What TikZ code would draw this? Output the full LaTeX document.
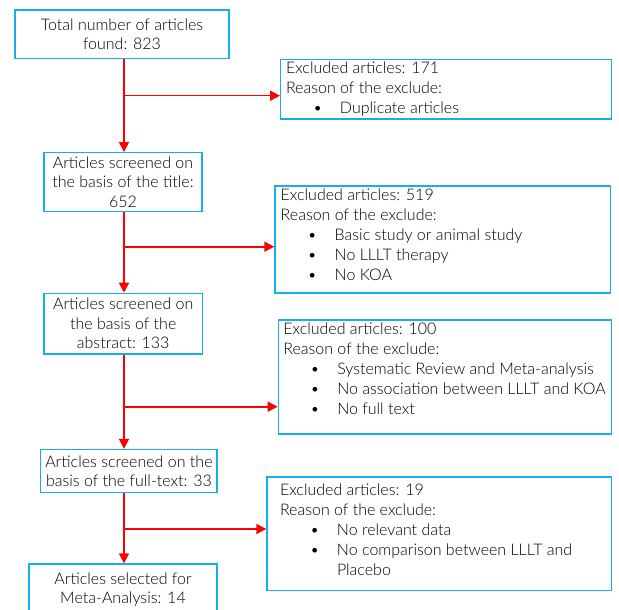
\documentclass[tikz,border=0pt]{standalone}
\usepackage{fontspec}
\setmainfont{Lato}[UprightFont=* Light]
\usetikzlibrary{arrows.meta}
\definecolor{boxblue}{RGB}{20,176,236}
\definecolor{arrred}{RGB}{255,0,0}
\newcommand{\xbody}[5]{\parbox[c][#2][t]{#1}{\raggedright\leftskip=#3\relax\parskip=0pt\baselineskip=20pt\vspace*{#4}#5}}
\newcommand{\xl}[1]{\par\noindent#1\par}
\newcommand{\bitem}[1]{\par\hangindent=54pt\hangafter=1\noindent\hbox to 27pt{}\hbox to 27pt{\textbullet\hfil}#1\par}
\newcommand{\bitemw}[1]{\par\hangindent=57pt\hangafter=1\noindent\hbox to 30pt{}\hbox to 27pt{\textbullet\hfil}#1\par}
\tikzset{
  mainbox/.style={draw=boxblue, line width=1.3pt, inner sep=0pt, align=center,
    font=\fontsize{16}{19.5}\selectfont},
  xbox/.style={draw=boxblue, line width=1.3pt, inner sep=0pt,
    font=\fontsize{16}{20}\selectfont},
  flow/.style={draw=arrred, line width=1.6pt, -{Triangle[length=10pt,width=10pt]}},
}
\begin{document}
\begin{tikzpicture}[x=1pt,y=-1pt]
\useasboundingbox (0,0) rectangle (619,610);
\fill[white] (0,0) rectangle (619,610);
\coordinate (spine) at (124,0);
% main column
\node[mainbox, minimum width=214pt, minimum height=48.7pt] (b1) at (122,34.35) {Total number of articles\\found: 823};
\node[mainbox, minimum width=158pt, minimum height=59pt] (b2) at (123,182.2) {Articles screened on\\the basis of the title:\\652};
\node[mainbox, minimum width=158.3pt, minimum height=60.7pt] (b3) at (123.2,323.7) {Articles screened on\\the basis of the\\abstract: 133};
\node[mainbox, minimum width=176.3pt, minimum height=43.2pt] (b4) at (128.9,471.1) {Articles screened on the\\basis of the full-text: 33};
\node[mainbox, minimum width=188pt, minimum height=51pt] (b5) at (123,589.5) {Articles selected for\\Meta-Analysis: 14};
% exclusion boxes
\node[xbox] (e1) at (446.2,89.15) {\xbody{331pt}{59.7pt}{5.3pt}{2.4pt}{%
  \xl{Excluded articles: 171}\xl{Reason of the exclude:}\bitem{Duplicate articles}}};
\node[xbox] (e2) at (442.85,239.5) {\xbody{335.7pt}{107pt}{5.7pt}{3.1pt}{%
  \xl{Excluded articles: 519}\xl{Reason of the exclude:}\bitem{Basic study or animal study}\bitem{No LLLT therapy}\bitem{No KOA}}};
\node[xbox] (e3) at (445,377) {\xbody{333.4pt}{114pt}{5pt}{3.1pt}{%
  \xl{Excluded articles: 100}\xl{Reason of the exclude:}\bitem{Systematic Review and Meta-analysis}\bitem{No association between LLLT and KOA}\bitem{No full text}}};
\node[xbox] (e4) at (439.35,533.85) {\xbody{344.7pt}{113.7pt}{13pt}{7.1pt}{%
  \xl{Excluded articles: 19}\xl{Reason of the exclude:}\bitemw{No relevant data}\bitemw{No comparison between LLLT and\newline Placebo}}};
% junctions
\coordinate (j1) at (124,95.7);
\coordinate (j2) at (124,246.7);
\coordinate (j3) at (124,406.7);
\coordinate (j4) at (124,529);
% connectors
\draw[flow] (b1.south -| spine) -- (b2.north -| spine);
\draw[flow] (b2.south -| spine) -- (b3.north -| spine);
\draw[flow] (b3.south -| spine) -- (b4.north -| spine);
\draw[flow] (b4.south -| spine) -- (b5.north -| spine);
\draw[flow] (j1) -- (j1 -| e1.west);
\draw[flow] (j2) -- (j2 -| e2.west);
\draw[flow] (j3) -- (j3 -| e3.west);
\draw[flow] (j4) -- (j4 -| e4.west);
\end{tikzpicture}
\end{document}
